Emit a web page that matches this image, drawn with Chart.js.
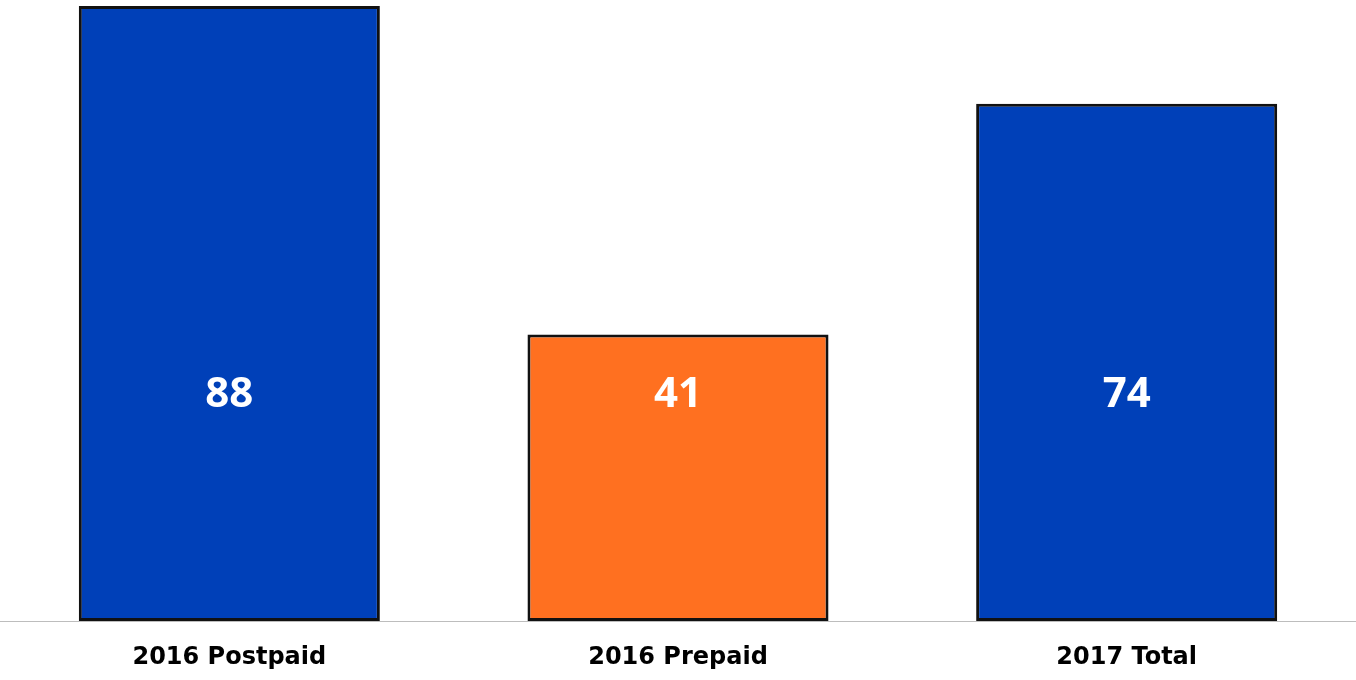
<!DOCTYPE html>
<html>
<head>
<meta charset="utf-8">
<script src="https://cdn.jsdelivr.net/npm/chart.js@4"></script>
<style>
  html, body { margin: 0; padding: 0; background: #fff; }
  #wrap { width: 1356px; height: 680px; }
</style>
</head>
<body>
<div id="wrap"><canvas id="chart"></canvas></div>
<script>
const categories = ['2016 Postpaid', '2016 Prepaid', '2017 Total'];
const values = [88, 41, 74];
const barColors = ['#0040b8', '#ff7020', '#0040b8'];

// value labels sit at one common height inside the bars
const LABEL_LEVEL = 32.4;

const valueLabels = {
  id: 'valueLabels',
  afterDatasetsDraw(chart) {
    const { ctx, chartArea, scales } = chart;
    // baseline across the whole width
    ctx.save();
    ctx.strokeStyle = '#bdbdbd';
    ctx.lineWidth = 1;
    ctx.beginPath();
    ctx.moveTo(0, chartArea.bottom + 0.5);
    ctx.lineTo(chart.width, chartArea.bottom + 0.5);
    ctx.stroke();

    ctx.fillStyle = '#ffffff';
    ctx.font = 'bold 42px "Open Sans", sans-serif';
    ctx.textAlign = 'center';
    ctx.textBaseline = 'middle';
    const y = scales.y.getPixelForValue(LABEL_LEVEL);
    chart.getDatasetMeta(0).data.forEach((bar, i) => {
      ctx.fillText(String(values[i]), bar.x, y);
    });
    ctx.restore();
  }
};

new Chart(document.getElementById('chart').getContext('2d'), {
  type: 'bar',
  data: {
    labels: categories,
    datasets: [{
      data: values,
      backgroundColor: barColors,
      borderColor: '#111111',
      borderWidth: 3,
      borderSkipped: false,
      barPercentage: 0.671,
      categoryPercentage: 1
    }]
  },
  options: {
    responsive: true,
    maintainAspectRatio: false,
    animation: false,
    layout: { padding: { left: 5, right: 5, top: 6, bottom: 0 } },
    plugins: {
      legend: { display: false },
      title: { display: false },
      tooltip: { enabled: false }
    },
    scales: {
      x: {
        grid: { display: false, drawTicks: false },
        border: { display: false },
        afterFit(scale) { scale.height = 59; },
        ticks: {
          padding: 22,
          color: '#000000',
          font: { family: '"DejaVu Sans", Verdana, sans-serif', weight: 'bold', size: 24 }
        }
      },
      y: {
        display: false,
        min: 0,
        max: 88
      }
    }
  },
  plugins: [valueLabels]
});
</script>
</body>
</html>
